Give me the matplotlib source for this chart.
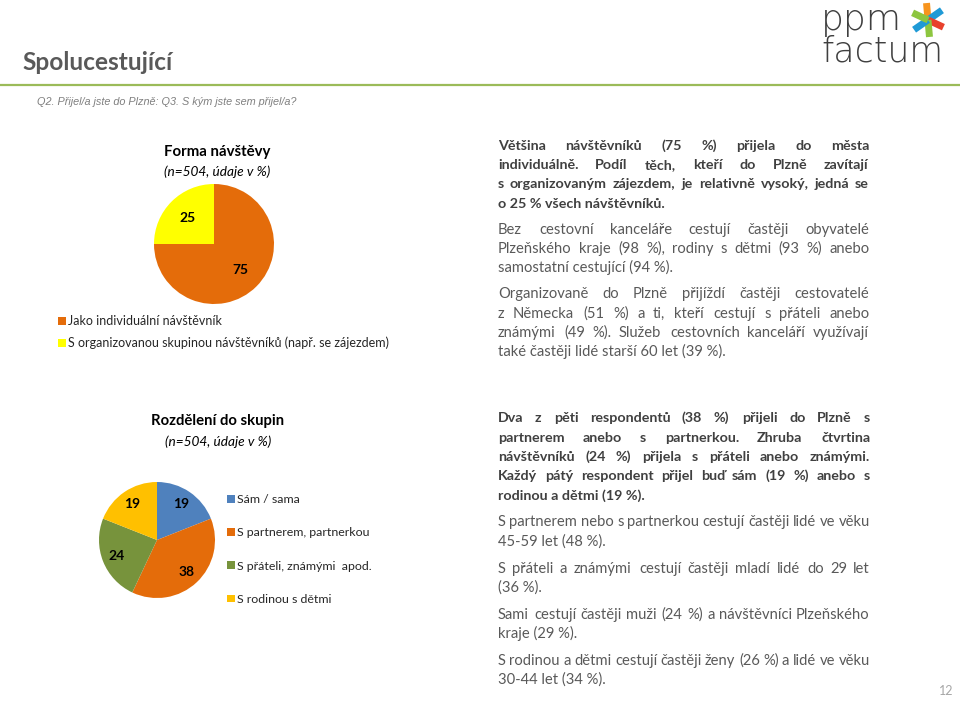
import matplotlib
matplotlib.use("Agg")
import matplotlib.pyplot as plt
from matplotlib.transforms import Affine2D
import numpy as np

W, H = 960, 704
BODY_FONT = "Lato"

# --- data ---
visit_labels = ["Jako individuální návštěvník",
                "S organizovanou skupinou návštěvníků (např. se zájezdem)"]
visit_values = [75, 25]
visit_colors = ["#E46C0A", "#FFFF00"]

group_labels = ["Sám / sama", "S partnerem, partnerkou",
                "S přáteli, známými  apod.", "S rodinou s dětmi"]
group_values = [19, 38, 24, 19]
group_colors = ["#4F81BD", "#E46C0A", "#77933C", "#FFC000"]

# text blocks: (lines, bold)
top_paragraphs = [
    (["Většina návštěvníků (75 %) přijela do města",
      "individuálně. Podíl těch, kteří do Plzně zavítají",
      "s organizovaným zájezdem, je relativně vysoký, jedná se",
      "o 25 % všech návštěvníků."], True),
    (["Bez cestovní kanceláře cestují častěji obyvatelé",
      "Plzeňského kraje (98 %), rodiny s dětmi (93 %) anebo",
      "samostatní cestující (94 %)."], False),
    (["Organizovaně do Plzně přijíždí častěji cestovatelé",
      "z Německa (51 %) a ti, kteří cestují s přáteli anebo",
      "známými (49 %). Služeb cestovních kanceláří využívají",
      "také častěji lidé starší 60 let (39 %)."], False),
]
bottom_paragraphs = [
    (["Dva z pěti respondentů (38 %) přijeli do Plzně s",
      "partnerem anebo s partnerkou. Zhruba čtvrtina",
      "návštěvníků (24 %) přijela s přáteli anebo známými.",
      "Každý pátý respondent přijel buď sám (19 %) anebo s",
      "rodinou a dětmi (19 %)."], True),
    (["S partnerem nebo s partnerkou cestují častěji lidé ve věku",
      "45-59 let (48 %)."], False),
    (["S přáteli a známými cestují častěji mladí lidé do 29 let",
      "(36 %)."], False),
    (["Sami cestují častěji muži (24 %) a návštěvníci Plzeňského",
      "kraje (29 %)."], False),
    (["S rodinou a dětmi cestují častěji ženy (26 %) a lidé ve věku",
      "30-44 let (34 %)."], False),
]

fig = plt.figure(figsize=(W / 100, H / 100), dpi=100)
fig.patch.set_facecolor("white")
px = Affine2D().scale(1 / W, -1 / H).translate(0, 1) + fig.transFigure
renderer = fig.canvas.get_renderer()


def pie_axes(cx, cy, r):
    return fig.add_axes([(cx - r) / W, 1 - (cy + r) / H, 2 * r / W, 2 * r / H])


def fix_limits(ax):
    # pie() resets limits to +-1.25, put them back so radius fills the box
    ax.set_xlim(-1, 1)
    ax.set_ylim(-1, 1)
    ax.axis("off")


def slice_labels(ax, wedges, values, dist):
    for w, v in zip(wedges, values):
        ang = np.deg2rad((w.theta1 + w.theta2) / 2)
        ax.text(dist * np.cos(ang), dist * np.sin(ang), str(v), ha="center", va="center",
                fontsize=10, fontweight="bold", family=BODY_FONT, color="black")


def justify(lines, bold, x0, x1, y0, step, color, size):
    # y0 = centre of first line; words share a whole-pixel baseline so they don't jitter
    weight = "bold" if bold else "normal"
    for i, line in enumerate(lines):
        y = round(y0 + i * step + 4.5)
        if i == len(lines) - 1:
            fig.text(x0, y, line, transform=px, ha="left", va="baseline", fontsize=size,
                     fontweight=weight, family=BODY_FONT, color=color)
            continue
        words = line.split()
        texts = [fig.text(0, y, w, transform=px, ha="left", va="baseline", fontsize=size,
                          fontweight=weight, family=BODY_FONT, color=color) for w in words]
        widths = [t.get_window_extent(renderer).width for t in texts]
        gap = (x1 - x0 - sum(widths)) / max(len(words) - 1, 1)
        x = x0
        for t, wd in zip(texts, widths):
            t.set_x(round(x))
            x += wd + gap


# --- header ---
fig.text(22, 62, "Spolucestující", transform=px, ha="left", va="center", fontsize=17.6,
         fontweight="bold", family=BODY_FONT, color="#595959")
fig.add_artist(plt.Line2D([0, 1], [1 - 85 / H, 1 - 85 / H], transform=fig.transFigure,
                          color="#9BBB59", lw=1.6))
fig.text(37, 102, "Q2. Přijel/a jste do Plzně: Q3. S kým jste sem přijel/a?", transform=px,
         ha="left", va="center", fontsize=7.8, style="italic", family="Liberation Sans",
         color="#7F7F7F")

# logo
fig.text(821, 20, "ppm", transform=px, ha="left", va="center", fontsize=26,
         family="DejaVu Sans", fontweight="light", color="#3F3F3F")
fig.text(821, 51, "factum", transform=px, ha="left", va="center", fontsize=25,
         family="DejaVu Sans", fontweight="light", color="#3F3F3F")
star_cx, star_cy, arm = 928, 20, 17
for ang, col in [(95, "#F7941D"), (35, "#1F9AD6"), (-25, "#E8412C"), (-85, "#8DC63F"),
                 (-145, "#1F9AD6"), (155, "#8DC63F")]:
    a = np.deg2rad(ang)
    fig.add_artist(plt.Line2D([star_cx / W, (star_cx + arm * np.cos(a)) / W],
                              [1 - star_cy / H, 1 - (star_cy - arm * np.sin(a)) / H],
                              transform=fig.transFigure, color=col, lw=5,
                              solid_capstyle="butt"))

# --- top pie: Forma návštěvy ---
fig.text(217, 152, "Forma návštěvy", transform=px, ha="center", va="center", fontsize=10.8,
         fontweight="bold", family=BODY_FONT, color="black")
fig.text(217, 172, "(n=504, údaje v %)", transform=px, ha="center", va="center", fontsize=9.8,
         style="italic", family=BODY_FONT, color="black")
ax1 = pie_axes(214, 244, 60)
w1, _ = ax1.pie(visit_values, colors=visit_colors, startangle=90, counterclock=False,
                radius=1, wedgeprops=dict(linewidth=0))
fix_limits(ax1)
slice_labels(ax1, w1, visit_values, 0.62)
fig.legend(w1, visit_labels, loc="upper left", bbox_to_anchor=(47 / W, 1 - 304 / H),
           frameon=False, handlelength=0.6, handleheight=0.6, handletextpad=0.15,
           labelspacing=0.75, prop=dict(family=BODY_FONT, size=9.0), labelcolor="#262626")

# --- bottom pie: Rozdělení do skupin ---
fig.text(218, 421, "Rozdělení do skupin", transform=px, ha="center", va="center", fontsize=10.7,
         fontweight="bold", family=BODY_FONT, color="black")
fig.text(218, 442, "(n=504, údaje v %)", transform=px, ha="center", va="center", fontsize=9.8,
         style="italic", family=BODY_FONT, color="black")
ax2 = pie_axes(157, 540, 58)
w2, _ = ax2.pie(group_values, colors=group_colors, startangle=90, counterclock=False,
                radius=1, wedgeprops=dict(linewidth=0))
fix_limits(ax2)
slice_labels(ax2, w2, group_values, 0.75)
fig.legend(w2, group_labels, loc="upper left", bbox_to_anchor=(216 / W, 1 - 483 / H),
           frameon=False, handlelength=0.6, handleheight=0.6, handletextpad=0.2,
           labelspacing=1.8, prop=dict(family=BODY_FONT, size=8.9), labelcolor="#262626")

# --- commentary ---
y = 145
for lines, bold in top_paragraphs:
    justify(lines, bold, 498, 869, y, 19.5, "#404040" if bold else "#595959",
            10.3 if bold else 10.6)
    y += len(lines) * 19.5 + 6
y = 418
for lines, bold in bottom_paragraphs:
    justify(lines, bold, 498, 870, y, 19.3, "#404040" if bold else "#595959",
            10.3 if bold else 10.6)
    y += len(lines) * 19.3 + 7.5

fig.text(953, 697, "12", transform=px, ha="right", va="bottom", fontsize=9,
         family=BODY_FONT, color="#A6A6A6")

fig.savefig("out.png", dpi=100, facecolor="white")
